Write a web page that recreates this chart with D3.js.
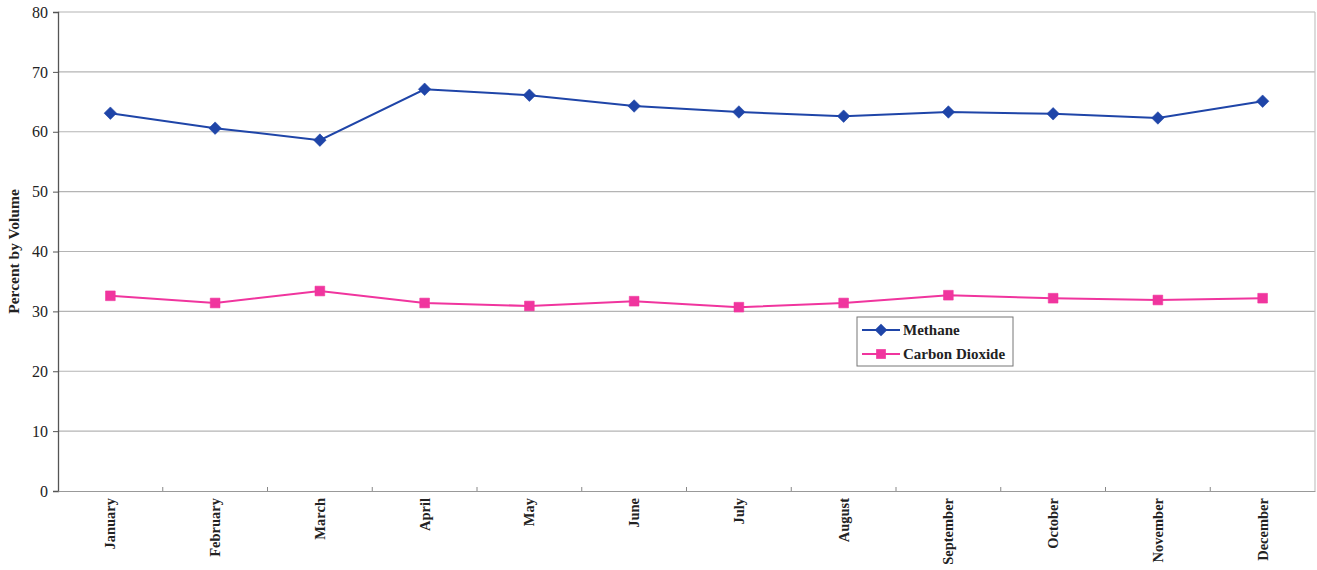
<!DOCTYPE html>
<html>
<head>
<meta charset="utf-8">
<script src="https://cdn.jsdelivr.net/npm/d3@7"></script>
<style>
  html, body { margin: 0; padding: 0; background: #fff; }
  svg { display: block; }
  text { font-family: "Liberation Serif", "DejaVu Serif", serif; fill: #222; }
</style>
</head>
<body>
<svg id="chart" width="1317" height="570"></svg>
<script>
// Monthly landfill gas composition, percent by volume
const months = ["January", "February", "March", "April", "May", "June",
                "July", "August", "September", "October", "November", "December"];
const methane = [63.1, 60.6, 58.6, 67.1, 66.1, 64.3, 63.3, 62.6, 63.3, 63.0, 62.3, 65.1];
const carbonDioxide = [32.6, 31.4, 33.4, 31.4, 30.9, 31.7, 30.7, 31.4, 32.7, 32.2, 31.9, 32.2];
const yTicks = [0, 10, 20, 30, 40, 50, 60, 70, 80];

const svg = d3.select("#chart");
const margin = { left: 58, right: 2, top: 12, bottom: 79 };
const W = 1317, H = 570;
const x0 = margin.left, x1 = W - margin.right;
const y0 = H - margin.bottom, y1 = margin.top;

const x = d3.scaleBand().domain(months).range([x0, x1]);
const y = d3.scaleLinear().domain([0, 80]).range([y0, y1]);

// Horizontal gridlines
svg.append("g")
  .selectAll("line")
  .data(yTicks.filter(t => t > 0))
  .join("line")
  .attr("x1", x0).attr("x2", x1)
  .attr("y1", d => y(d)).attr("y2", d => y(d))
  .attr("stroke", "#b4b4b4").attr("stroke-width", 1.2);

// Right frame border
svg.append("line")
  .attr("x1", x1).attr("x2", x1).attr("y1", y1).attr("y2", y0)
  .attr("stroke", "#c4c4c4").attr("stroke-width", 1.2);

// Y axis
const yAxis = svg.append("g")
  .attr("transform", `translate(${x0},0)`)
  .call(d3.axisLeft(y).tickValues(yTicks).tickSize(5).tickPadding(5));
yAxis.select(".domain").attr("stroke", "#555").attr("stroke-width", 1.3);
yAxis.selectAll(".tick line").attr("stroke", "#555");
yAxis.selectAll(".tick text")
  .style("font-family", "'Liberation Serif', serif")
  .style("font-size", "16px").attr("fill", "#222");

// X axis with ticks at category boundaries
const xAxis = svg.append("g")
  .attr("transform", `translate(0,${y0})`)
  .call(d3.axisBottom(x).tickSize(0).tickPadding(0));
xAxis.select(".domain").attr("stroke", "#999").attr("stroke-width", 1.2);
xAxis.selectAll(".tick text")
  .style("font-family", "'Liberation Serif', serif")
  .style("font-size", "14.5px").style("font-weight", "bold").attr("fill", "#222")
  .attr("text-anchor", "end")
  .attr("transform", "rotate(-90)")
  .attr("x", -7).attr("y", 0).attr("dy", "0.35em");
svg.append("g")
  .selectAll("line")
  .data(months.slice(1))
  .join("line")
  .attr("x1", d => x(d)).attr("x2", d => x(d))
  .attr("y1", y0).attr("y2", y0 - 4)
  .attr("stroke", "#888");

// Y axis title
svg.append("text")
  .attr("transform", `translate(19,${(y0 + y1) / 2}) rotate(-90)`)
  .attr("text-anchor", "middle")
  .style("font-size", "15.5px").style("font-weight", "bold")
  .text("Percent by Volume");

const cx = m => x(m) + x.bandwidth() / 2;
const line = d3.line().x(d => cx(d.m)).y(d => y(d.v));

const series = [
  { name: "Methane", values: methane, color: "#1f45a8", marker: "diamond" },
  { name: "Carbon Dioxide", values: carbonDioxide, color: "#f0359e", marker: "square" }
];

const markerPath = (type) => type === "diamond"
  ? d3.symbol(d3.symbolDiamond2, 100)()
  : d3.symbol(d3.symbolSquare2, 120)();

series.forEach(s => {
  const pts = months.map((m, i) => ({ m, v: s.values[i] }));
  svg.append("path")
    .datum(pts)
    .attr("fill", "none")
    .attr("stroke", s.color)
    .attr("stroke-width", 2)
    .attr("d", line);
  svg.append("g")
    .selectAll("path")
    .data(pts)
    .join("path")
    .attr("transform", d => `translate(${cx(d.m)},${y(d.v)})`)
    .attr("d", markerPath(s.marker))
    .attr("fill", s.color)
    .attr("stroke", s.color).attr("stroke-width", 0.6);
});

// Legend
const lg = svg.append("g").attr("transform", "translate(857,317)");
lg.append("rect")
  .attr("width", 156).attr("height", 49)
  .attr("fill", "#fff").attr("stroke", "#777").attr("stroke-width", 1);
series.forEach((s, i) => {
  const yy = 13 + i * 24;
  lg.append("line")
    .attr("x1", 5).attr("x2", 43).attr("y1", yy).attr("y2", yy)
    .attr("stroke", s.color).attr("stroke-width", 2);
  lg.append("path")
    .attr("transform", `translate(24,${yy})`)
    .attr("d", markerPath(s.marker))
    .attr("fill", s.color);
  lg.append("text")
    .attr("x", 46).attr("y", yy).attr("dy", "0.35em")
    .style("font-size", "15px").style("font-weight", "bold")
    .text(s.name);
});
</script>
</body>
</html>
